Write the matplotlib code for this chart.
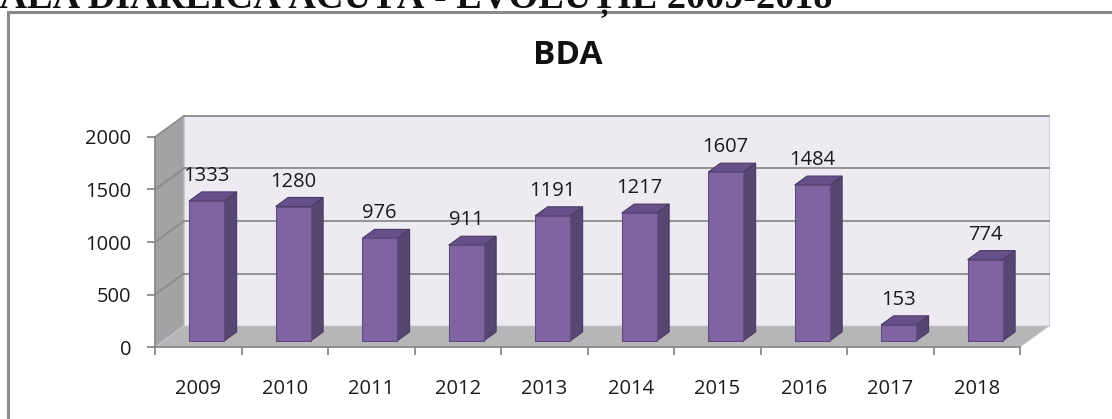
import matplotlib.pyplot as plt
import numpy as np
from matplotlib.patches import Polygon, Rectangle

years = ['2009', '2010', '2011', '2012', '2013', '2014', '2015', '2016', '2017', '2018']
cases = [1333, 1280, 976, 911, 1191, 1217, 1607, 1484, 153, 774]
yticks = [0, 500, 1000, 1500, 2000]

W, H = 1112, 419
fig = plt.figure(figsize=(W / 100, H / 100), dpi=100)
plt.rcParams['font.family'] = ['Open Sans', 'DejaVu Sans']

# page heading, mostly cut off by the top edge as in the source screenshot
fig.text(832 / W, (H - 7) / H, 'BOALA DIAREICĂ ACUTĂ - EVOLUȚIE 2009-2018',
         ha='right', va='baseline', fontsize=27.5, fontweight='bold',
         family=['Liberation Serif', 'DejaVu Serif'], color='#111111')

# chart frame
fig.add_artist(Rectangle((8 / W, -0.1), 1.2, (H - 12) / H + 0.1,
                         transform=fig.transFigure, fill=False,
                         edgecolor='#8a8a8a', linewidth=2.2))

fig.text(568 / W, (H - 55) / H, 'BDA', ha='center', va='center',
         fontsize=24, fontweight='bold', color='#111111')

ax = fig.add_axes([155 / W, 72 / H, 865 / W, 210 / H])
ax.set_xlim(0, len(years))
ax.set_ylim(0, 2000)
ax.patch.set_alpha(0)

# depth of the 3d box, in data units
dx, dy = 0.335, 200
n = len(years)

walls = [
    (Polygon([(dx, dy), (n + dx, dy), (n + dx, 2000 + dy), (dx, 2000 + dy)]), '#edebf1'),
    (Polygon([(0, 0), (dx, dy), (dx, 2000 + dy), (0, 2000)]), '#a3a3a6'),
    (Polygon([(0, 0), (n, 0), (n + dx, dy), (dx, dy)]), '#b6b6b9'),
]
for p, c in walls:
    p.set_facecolor(c)
    p.set_edgecolor('#c8c8cc')
    p.set_linewidth(0.6)
    p.set_clip_on(False)
    p.set_zorder(0)
    ax.add_patch(p)

for v in yticks[1:]:
    ax.plot([dx, n + dx], [v + dy, v + dy], color='#8c8c8c', lw=1.3,
            clip_on=False, zorder=1)
    ax.plot([0, dx], [v, v + dy], color='#8c8c8c', lw=1.3, clip_on=False, zorder=1)

# bars: placed at ~30% of the depth, with their own depth of ~43%
bw = 0.405
f0, f1 = 0.29, 0.43
for i, v in enumerate(cases):
    cx = i + 0.5 + f0 * dx
    x0, x1 = cx - bw / 2, cx + bw / 2
    b = f0 * dy
    ox, oy = f1 * dx, f1 * dy
    side = Polygon([(x1, b), (x1 + ox, b + oy), (x1 + ox, b + v + oy), (x1, b + v)],
                   facecolor='#574572', edgecolor='#4b3b63', lw=0.8, clip_on=False, zorder=3)
    top = Polygon([(x0, b + v), (x1, b + v), (x1 + ox, b + v + oy), (x0 + ox, b + v + oy)],
                  facecolor='#66508a', edgecolor='#4b3b63', lw=0.8, clip_on=False, zorder=3)
    front = Polygon([(x0, b), (x1, b), (x1, b + v), (x0, b + v)],
                    facecolor='#8064a2', edgecolor='#5f4b80', lw=0.8, clip_on=False, zorder=4)
    for p in (side, top, front):
        ax.add_patch(p)
    ax.annotate(str(v), (cx, b + v), xytext=(0, 18), textcoords='offset points',
                ha='center', va='center', fontsize=14.5, color='#1a1a1a',
                annotation_clip=False, zorder=5)

for s in ['top', 'right']:
    ax.spines[s].set_visible(False)
for s in ['left', 'bottom']:
    ax.spines[s].set_color('#8a8a8a')
    ax.spines[s].set_linewidth(1.3)
    ax.spines[s].set_zorder(2)

ax.set_yticks(yticks)
ax.set_yticklabels([str(t) for t in yticks])
ax.tick_params(axis='y', length=6, width=1.3, color='#8a8a8a', pad=11,
               labelsize=14.5, labelcolor='#1a1a1a')
ax.set_xticks(np.arange(n) + 0.5)
ax.set_xticklabels(years)
ax.set_xticks(np.arange(n + 1), minor=True)
ax.tick_params(axis='x', which='major', length=0, pad=23, labelsize=14.5,
               labelcolor='#1a1a1a')
ax.tick_params(axis='x', which='minor', length=6, width=1.3, color='#8a8a8a')

plt.savefig('out.png', dpi=100)
